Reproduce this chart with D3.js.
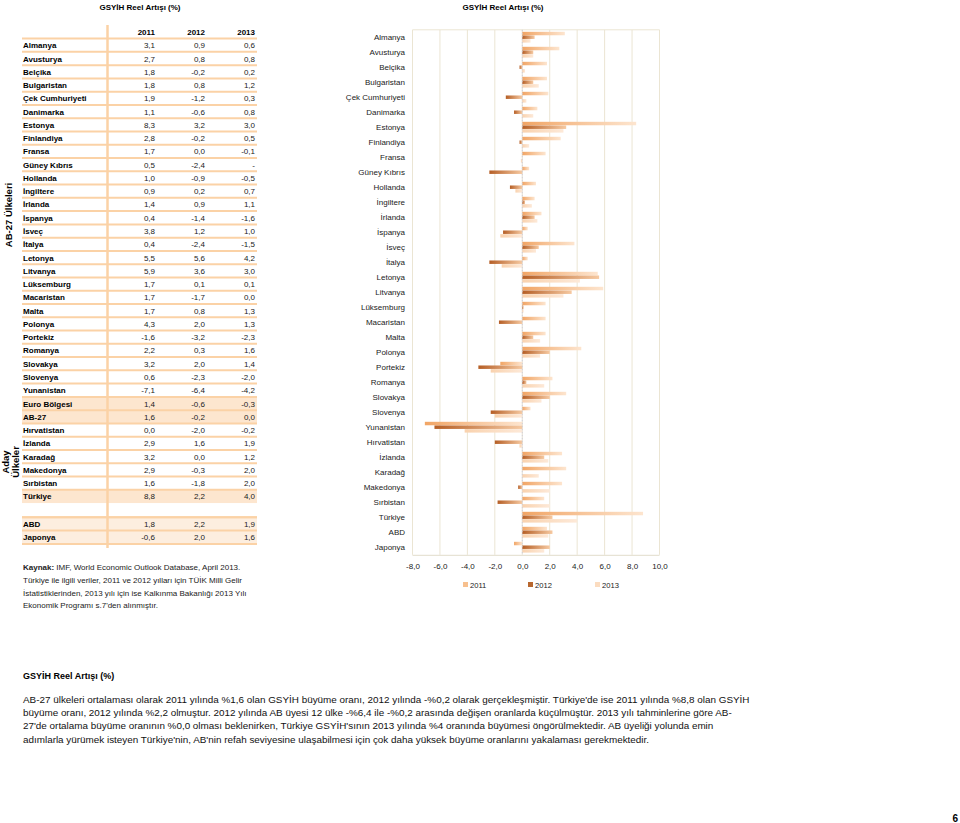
<!DOCTYPE html>
<html><head><meta charset="utf-8">
<script src="https://cdn.jsdelivr.net/npm/d3@7"></script>
<style>
html,body{margin:0;padding:0;background:#fff;}
svg{display:block;font-family:"Liberation Sans",Arial,sans-serif;}
</style></head>
<body>
<svg id="c" width="960" height="823"></svg>
<script>
const years = ["2011","2012","2013"];
const countries = ["Almanya","Avusturya","Belçika","Bulgaristan","Çek Cumhuriyeti","Danimarka","Estonya","Finlandiya","Fransa","Güney Kıbrıs","Hollanda","İngiltere","İrlanda","İspanya","İsveç","İtalya","Letonya","Litvanya","Lüksemburg","Macaristan","Malta","Polonya","Portekiz","Romanya","Slovakya","Slovenya","Yunanistan","Euro Bölgesi","AB-27","Hırvatistan","İzlanda","Karadağ","Makedonya","Sırbistan","Türkiye","ABD","Japonya"];
const v2011 = [3.1,2.7,1.8,1.8,1.9,1.1,8.3,2.8,1.7,0.5,1.0,0.9,1.4,0.4,3.8,0.4,5.5,5.9,1.7,1.7,1.7,4.3,-1.6,2.2,3.2,0.6,-7.1,1.4,1.6,0.0,2.9,3.2,2.9,1.6,8.8,1.8,-0.6];
const v2012 = [0.9,0.8,-0.2,0.8,-1.2,-0.6,3.2,-0.2,0.0,-2.4,-0.9,0.2,0.9,-1.4,1.2,-2.4,5.6,3.6,0.1,-1.7,0.8,2.0,-3.2,0.3,2.0,-2.3,-6.4,-0.6,-0.2,-2.0,1.6,0.0,-0.3,-1.8,2.2,2.2,2.0];
const v2013 = [0.6,0.8,0.2,1.2,0.3,0.8,3.0,0.5,-0.1,null,-0.5,0.7,1.1,-1.6,1.0,-1.5,4.2,3.0,0.1,0.0,1.3,1.3,-2.3,1.6,1.4,-2.0,-4.2,-0.3,0.0,-0.2,1.9,1.2,2.0,2.0,4.0,1.9,1.6];
const highlightRows = ["Euro Bölgesi","AB-27","Türkiye","ABD","Japonya"];
const chartExclude = ["Euro Bölgesi","AB-27"];
const xTicks = [-8,-6,-4,-2,0,2,4,6,8,10];
const titleText = "GSYİH Reel Artışı (%)";
const sourceLines = [
  ["Kaynak:", " IMF, World Economic Outlook Database, April 2013."],
  ["", "Türkiye ile ilgili veriler, 2011 ve 2012 yılları için TÜİK Milli Gelir"],
  ["", "İstatistiklerinden, 2013 yılı için ise Kalkınma Bakanlığı 2013 Yılı"],
  ["", "Ekonomik Programı s.7'den alınmıştır."]
];
const paragraph = [
  "AB-27 ülkeleri ortalaması olarak 2011 yılında %1,6 olan GSYİH büyüme oranı, 2012 yılında -%0,2 olarak gerçekleşmiştir. Türkiye'de ise 2011 yılında %8,8 olan GSYİH",
  "büyüme oranı, 2012 yılında %2,2 olmuştur. 2012 yılında AB üyesi 12 ülke -%6,4 ile -%0,2 arasında değişen oranlarda küçülmüştür. 2013 yılı tahminlerine göre AB-",
  "27'de ortalama büyüme oranının %0,0 olması beklenirken, Türkiye GSYİH'sının 2013 yılında %4 oranında büyümesi öngörülmektedir. AB üyeliği yolunda emin",
  "adımlarla yürümek isteyen Türkiye'nin, AB'nin refah seviyesine ulaşabilmesi için çok daha yüksek büyüme oranlarını yakalaması gerekmektedir."
];

const svg = d3.select("#c");
const fmt = v => v === null ? "-" : d3.format(".1f")(v).replace(".", ",").replace("−","-");
const series = [v2011, v2012, v2013];

// ---------- TABLE ----------
const rowH = 13.27;
const rowTop = i => 38.6 + i * rowH + (i >= 35 ? 14.3 : 0);
const lineCol = "#fbd2a6";
const tg = svg.append("g");
tg.append("text").attr("x", 140).attr("y", 10).attr("text-anchor", "middle")
  .attr("font-size", 8).attr("font-weight", "bold").text(titleText);

countries.forEach((c, i) => {
  if (highlightRows.includes(c)) {
    tg.append("rect").attr("x", 22).attr("y", rowTop(i)).attr("width", 235).attr("height", rowH)
      .attr("fill", i >= 35 ? "#fdeedf" : "#fde6cf");
  }
});
const lineYs = [];
for (let i = 0; i <= 35; i++) lineYs.push(rowTop(i));
lineYs.push(rowTop(35)); lineYs.push(rowTop(36)); lineYs.push(rowTop(36) + rowH);
lineYs.forEach(y => tg.append("line").attr("x1", 22).attr("x2", 257).attr("y1", y).attr("y2", y)
  .attr("stroke", lineCol).attr("stroke-width", 2));
tg.append("line").attr("x1", 107.5).attr("x2", 107.5).attr("y1", 25).attr("y2", 548)
  .attr("stroke", lineCol).attr("stroke-width", 2.5);

const colX = [155, 205, 255];
years.forEach((y, j) => tg.append("text").attr("x", colX[j]).attr("y", 35).attr("text-anchor", "end")
  .attr("font-size", 8).attr("font-weight", "bold").text(y));
countries.forEach((c, i) => {
  const yb = rowTop(i) + rowH / 2 + 3;
  tg.append("text").attr("x", 23).attr("y", yb).attr("font-size", 8).attr("font-weight", "bold").text(c);
  series.forEach((s, j) => tg.append("text").attr("x", colX[j]).attr("y", yb).attr("text-anchor", "end")
    .attr("font-size", 8).attr("fill", "#222").text(fmt(s[i])));
});
tg.append("text").attr("transform", "translate(12,215) rotate(-90)").attr("text-anchor", "middle")
  .attr("font-size", 9.5).attr("font-weight", "bold").text("AB-27 Ülkeleri");
tg.append("text").attr("transform", "translate(8.5,462) rotate(-90)").attr("text-anchor", "middle")
  .attr("font-size", 9.5).attr("font-weight", "bold").text("Aday");
tg.append("text").attr("transform", "translate(19,462) rotate(-90)").attr("text-anchor", "middle")
  .attr("font-size", 9.5).attr("font-weight", "bold").text("Ülkeler");

sourceLines.forEach((l, i) => {
  const t = svg.append("text").attr("x", 23).attr("y", 570 + i * 12.8).attr("font-size", 8).attr("fill", "#222");
  if (l[0]) t.append("tspan").attr("font-weight", "bold").text(l[0]);
  t.append("tspan").text(l[1]);
});

// ---------- CHART ----------
const chartIdx = countries.map((c, i) => i).filter(i => !chartExclude.includes(countries[i]));
const chartCats = chartIdx.map(i => countries[i]);
const x = d3.scaleLinear().domain([-8, 10]).range([412.5, 659.5]);
const y = d3.scaleBand().domain(chartCats).range([29.8, 554.8]);
const sub = d3.scaleBand().domain(years).range([2, y.bandwidth() - 2]);

svg.append("text").attr("x", 503).attr("y", 10).attr("text-anchor", "middle")
  .attr("font-size", 8).attr("font-weight", "bold").text(titleText);

const defs = svg.append("defs");
const grads = [["#f1a565", "#fde5cf"], ["#b55e25", "#f6c9a1"], ["#f9d2ae", "#fde9d8"]];
grads.forEach((g, j) => {
  const lg = defs.append("linearGradient").attr("id", "g" + j).attr("x1", 0).attr("x2", 1).attr("y1", 0).attr("y2", 0);
  lg.append("stop").attr("offset", 0).attr("stop-color", g[0]);
  lg.append("stop").attr("offset", 1).attr("stop-color", g[1]);
});

const cg = svg.append("g");
cg.selectAll(".grid").data(xTicks).join("line")
  .attr("x1", d => x(d)).attr("x2", d => x(d)).attr("y1", 29.8).attr("y2", 554.8)
  .attr("stroke", "#ebe5d3").attr("stroke-width", 1);
cg.append("line").attr("x1", x(-8)).attr("x2", x(10)).attr("y1", 29.8).attr("y2", 29.8).attr("stroke", "#ebe5d3");
cg.append("line").attr("x1", x(-8)).attr("x2", x(10)).attr("y1", 555.3).attr("y2", 555.3).attr("stroke", "#e2dccb");

const groups = cg.selectAll(".grp").data(chartIdx).join("g").attr("transform", i => `translate(0,${y(countries[i])})`);
years.forEach((yr, j) => {
  groups.filter(i => series[j][i] !== null && series[j][i] !== 0).append("rect")
    .attr("x", i => x(Math.min(0, series[j][i])))
    .attr("width", i => Math.abs(x(series[j][i]) - x(0)))
    .attr("y", sub(yr)).attr("height", sub.bandwidth() - 0.2)
    .attr("fill", `url(#g${j})`);
});
cg.append("line").attr("x1", x(0)).attr("x2", x(0)).attr("y1", 29.8).attr("y2", 554.8)
  .attr("stroke", "#c8c8d8").attr("stroke-width", 0.8).attr("stroke-dasharray", "1.5,1.5");

cg.selectAll(".cl").data(chartCats).join("text")
  .attr("x", 405).attr("y", d => y(d) + y.bandwidth() / 2 + 3)
  .attr("text-anchor", "end").attr("font-size", 8).attr("fill", "#222").text(d => d);

const axis = d3.axisBottom(x).tickValues(xTicks).tickSize(0).tickPadding(8)
  .tickFormat(d => d3.format(".1f")(d).replace(".", ",").replace("−", "-"));
const ag = cg.append("g").attr("transform", "translate(0,555)").call(axis);
ag.select(".domain").remove();
ag.selectAll("text").attr("font-size", 8).attr("fill", "#222").attr("font-family", "Liberation Sans, Arial, sans-serif");

const legX = [463, 528, 595];
const legCols = ["#f7c08e", "#b8672f", "#fbdcc0"];
years.forEach((yr, j) => {
  svg.append("rect").attr("x", legX[j]).attr("y", 582).attr("width", 5).attr("height", 5).attr("fill", legCols[j]);
  svg.append("text").attr("x", legX[j] + 7).attr("y", 587.5).attr("font-size", 7.6).attr("fill", "#222").text(yr);
});

// ---------- BOTTOM TEXT ----------
svg.append("text").attr("x", 23).attr("y", 679).attr("font-size", 9).attr("font-weight", "bold").text(titleText);
paragraph.forEach((l, i) => svg.append("text").attr("x", 23).attr("y", 703 + i * 13.2)
  .attr("font-size", 9.9).attr("fill", "#111").text(l));
svg.append("text").attr("x", 958).attr("y", 822).attr("text-anchor", "end").attr("font-size", 10)
  .attr("font-weight", "bold").text("6");
</script>
</body></html>
